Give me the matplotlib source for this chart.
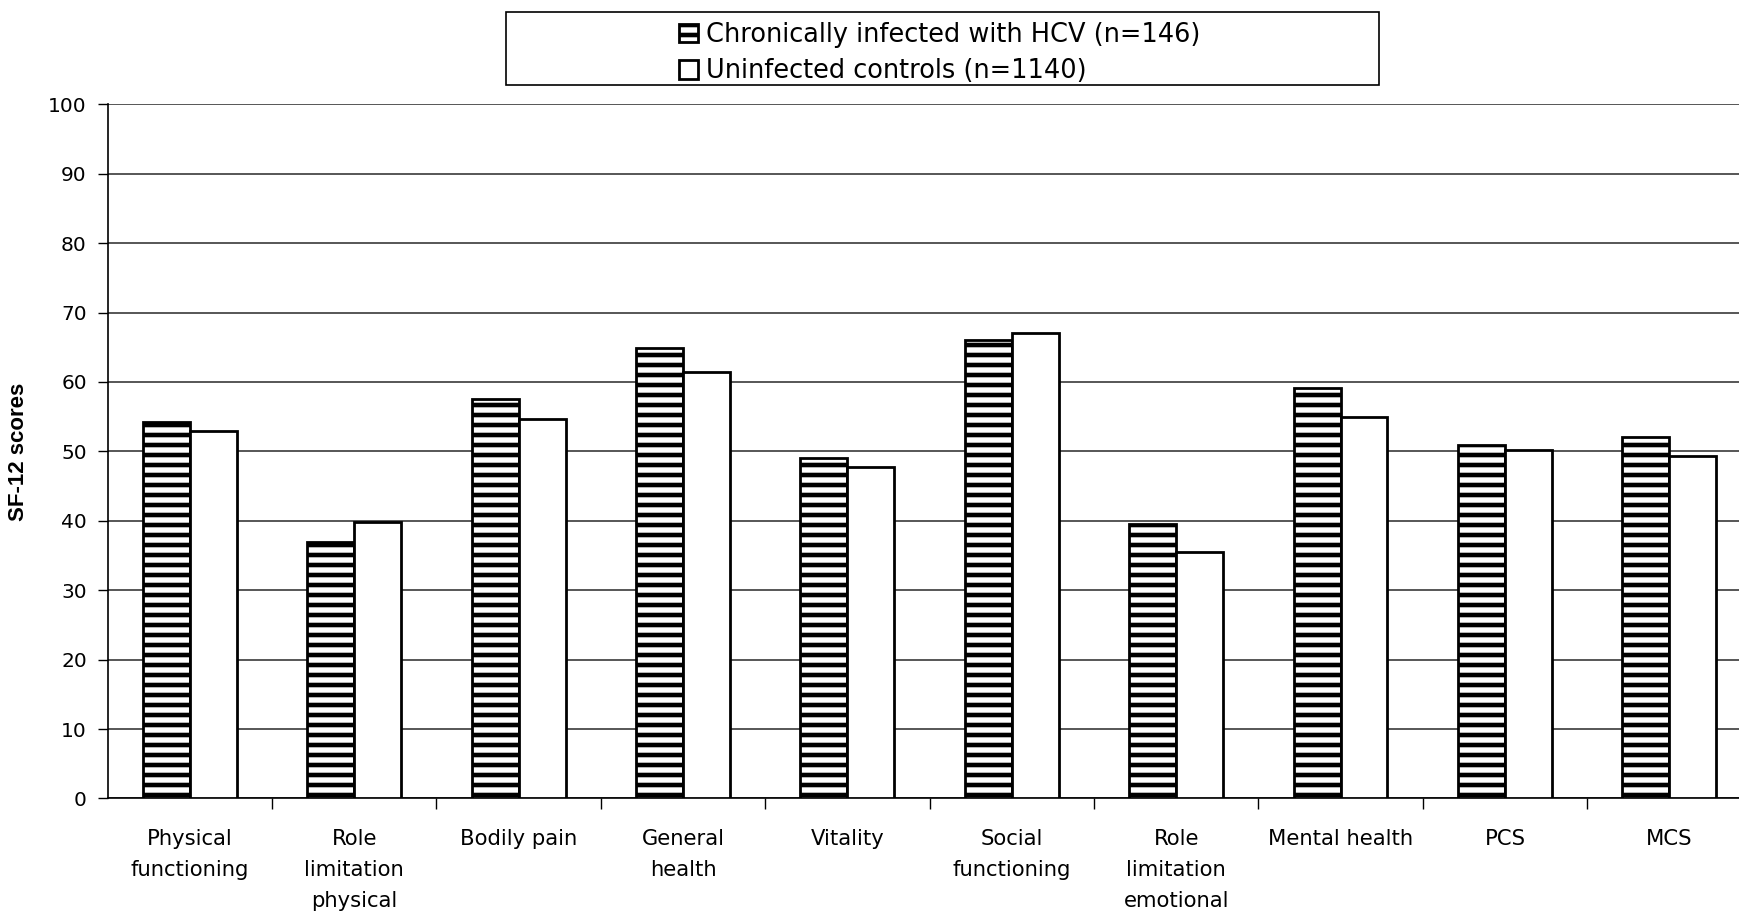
import numpy as np
import matplotlib
matplotlib.use("Agg")
import matplotlib.pyplot as plt
from matplotlib.patches import Rectangle

categories = ["Physical\nfunctioning", "Role\nlimitation\nphysical", "Bodily pain",
              "General\nhealth", "Vitality", "Social\nfunctioning",
              "Role\nlimitation\nemotional", "Mental health", "PCS", "MCS"]
hcv = [54.3, 36.9, 57.6, 64.9, 49.0, 66.0, 39.6, 59.1, 50.9, 52.1]
controls = [52.9, 39.9, 54.6, 61.4, 47.8, 67.1, 35.5, 54.9, 50.2, 49.4]
series_labels = ["Chronically infected with HCV (n=146)", "Uninfected controls (n=1140)"]
yticks = list(range(0, 101, 10))

# dpi 120 so that '--' hatching gives ~10 px stripes; k rescales sizes given for dpi 100
DPI = 120
k = 100 / DPI

plt.rcParams['font.family'] = ['DejaVu Sans']
plt.rcParams['hatch.linewidth'] = 3.3 * k
plt.rcParams['hatch.color'] = 'black'

fig = plt.figure(figsize=(1739 / DPI, 911 / DPI), dpi=DPI)
ax = fig.add_axes([0.0619, 0.1235, 1 - 0.0619, 0.762])

x = np.arange(len(categories))
w = 0.2857
b1 = ax.bar(x - w / 2, hcv, w, color='white', edgecolor='black', linewidth=2 * k,
            hatch='--', label=series_labels[0], zorder=3)
b2 = ax.bar(x + w / 2, controls, w, color='white', edgecolor='black', linewidth=2 * k,
            label=series_labels[1], zorder=3)

ax.set_yticks(yticks)
ax.yaxis.grid(True, color='#3a3a3a', linewidth=1.2 * k, zorder=0)
ax.set_axisbelow(True)
for s in ['top', 'right']:
    ax.spines[s].set_visible(False)
ax.spines['left'].set_linewidth(1.2 * k)
ax.spines['bottom'].set_linewidth(1.2 * k)

ax.set_xticks(x)
ax.set_xticklabels(categories, fontsize=15.2 * k, linespacing=1.7, va='top')
ax.set_xticks(np.arange(len(categories)) + 0.5, minor=True)
ax.tick_params(axis='x', which='major', length=0, pad=22 * k)
ax.tick_params(axis='x', which='minor', length=8 * k, width=1 * k, direction='out')
ax.tick_params(axis='y', length=7 * k, width=1 * k, labelsize=14.5 * k, pad=8 * k)
ax.set_ylabel("SF-12 scores", fontsize=16 * k, fontweight='bold',
              family='Liberation Sans', labelpad=14 * k)
ax.set_ylim(0, 100)
ax.set_xlim(-0.5, 9.424)

fig.add_artist(Rectangle((0.2908, 0.9063), 0.5019, 0.0803, transform=fig.transFigure,
                         facecolor='white', edgecolor='black', linewidth=1.2 * k))
fig.legend(handles=[b1, b2], labels=series_labels, loc='center left',
           bbox_to_anchor=(0.3833, 0.9416), frameon=False, fontsize=18.5 * k,
           handlelength=0.74, handleheight=0.74, handletextpad=0.3,
           labelspacing=0.4, borderpad=0)

fig.savefig("out.png", dpi=DPI)
